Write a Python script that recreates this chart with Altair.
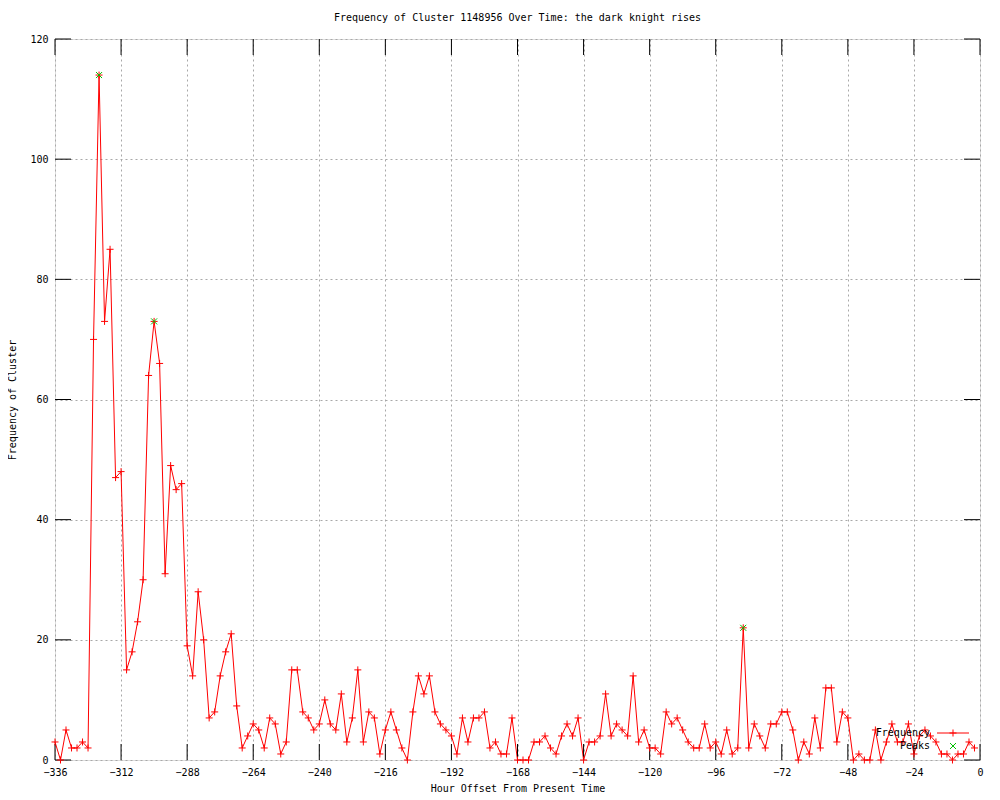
import altair as alt
import pandas as pd

# ---- data ----
hours = list(range(-336, 0, 2))
freq = [3, 0, 5, 2, 2, 3, 2, 70, 114, 73,
        85, 47, 48, 15, 18, 23, 30, 64, 73, 66,
        31, 49, 45, 46, 19, 14, 28, 20, 7, 8,
        14, 18, 21, 9, 2, 4, 6, 5, 2, 7,
        6, 1, 3, 15, 15, 8, 7, 5, 6, 10,
        6, 5, 11, 3, 7, 15, 3, 8, 7, 1,
        5, 8, 5, 2, 0, 8, 14, 11, 14, 8,
        6, 5, 4, 1, 7, 3, 7, 7, 8, 2,
        3, 1, 1, 7, 0, 0, 0, 3, 3, 4,
        2, 1, 4, 6, 4, 7, 0, 3, 3, 4,
        11, 4, 6, 5, 4, 14, 3, 5, 2, 2,
        1, 8, 6, 7, 5, 3, 2, 2, 6, 2,
        3, 1, 5, 1, 2, 22, 2, 6, 4, 2,
        6, 6, 8, 8, 5, 0, 3, 1, 7, 2,
        12, 12, 3, 8, 7, 0, 1, 0, 0, 5,
        0, 3, 6, 3, 3, 6, 1, 4, 5, 4,
        3, 1, 1, 0, 1, 1, 3, 2]
peak_hours = [-320, -300, -86]
peak_values = [114, 73, 22]
x_ticks = [-336, -312, -288, -264, -240, -216, -192, -168, -144, -120, -96, -72, -48, -24, 0]
y_ticks = [0, 20, 40, 60, 80, 100, 120]

title = "Frequency of Cluster 1148956 Over Time: the dark knight rises"
x_title = "Hour Offset From Present Time"
y_title = "Frequency of Cluster"
legend_labels = ["Frequency", "Peaks"]

FONT = "DejaVu Sans Mono"
W, H = 925, 721
TICK = 16
RED = "#ff0000"
GREEN = "#00c000"
PLUS = "M-1,0L1,0M0,-1L0,1"
CROSS = "M-1,-1L1,1M1,-1L-1,1"

df = pd.DataFrame({"hour": hours, "freq": freq})
peaks = pd.DataFrame({"hour": peak_hours, "freq": peak_values})
xt = pd.DataFrame({"hour": x_ticks})
yt = pd.DataFrame({"freq": y_ticks})
one = pd.DataFrame({"k": [0]})

xs = alt.Scale(domain=[-336, 0], nice=False, zero=False)
ys = alt.Scale(domain=[0, 120], nice=False, zero=True)

x_axis = alt.Axis(values=x_ticks, format="d", title=x_title, grid=True,
                  gridDash=[2, 3], gridColor="#a8a8a8", gridWidth=1,
                  ticks=False, domain=False, labelFont=FONT, labelFontSize=10,
                  labelColor="black", labelPadding=7, titleFont=FONT,
                  titleFontSize=10, titleFontWeight="normal", titleColor="black",
                  titlePadding=6, labelFlush=False)
y_axis = alt.Axis(values=y_ticks, format="d", title=y_title, grid=True,
                  gridDash=[2, 3], gridColor="#a8a8a8", gridWidth=1,
                  ticks=False, domain=False, labelFont=FONT, labelFontSize=10,
                  labelColor="black", labelPadding=7, titleFont=FONT,
                  titleFontSize=10, titleFontWeight="normal", titleColor="black",
                  titlePadding=12)

X = alt.X("hour:Q", scale=xs, axis=x_axis)
Y = alt.Y("freq:Q", scale=ys, axis=y_axis)

base = alt.Chart(df)

line = base.mark_line(color=RED, strokeWidth=1, clip=False).encode(x=X, y=Y)
pts = base.mark_point(shape=PLUS, size=49, color=RED, strokeWidth=1,
                      filled=False, opacity=1).encode(x=X, y=Y)
peak_pts = alt.Chart(peaks).mark_point(shape=CROSS, size=36, color=GREEN,
                                       strokeWidth=1, filled=False, opacity=1).encode(x=X, y=Y)

# tick marks (inward, mirrored)
bt = alt.Chart(xt).mark_rule(color="black", strokeWidth=1).encode(
    x=X, y=alt.value(H), y2=alt.value(H - TICK))
tt = alt.Chart(xt).mark_rule(color="black", strokeWidth=1).encode(
    x=X, y=alt.value(0), y2=alt.value(TICK))
lt = alt.Chart(yt).mark_rule(color="black", strokeWidth=1).encode(
    y=Y, x=alt.value(0), x2=alt.value(TICK))
rt = alt.Chart(yt).mark_rule(color="black", strokeWidth=1).encode(
    y=Y, x=alt.value(W), x2=alt.value(W - TICK))

# legend (inside, bottom right)
lg = alt.Chart(one)
leg_t1 = lg.mark_text(font=FONT, fontSize=10, align="right", baseline="middle",
                      color="black").encode(x=alt.value(875), y=alt.value(694),
                                            text=alt.value(legend_labels[0]))
leg_t2 = lg.mark_text(font=FONT, fontSize=10, align="right", baseline="middle",
                      color="black").encode(x=alt.value(875), y=alt.value(707),
                                            text=alt.value(legend_labels[1]))
leg_line = lg.mark_rule(color=RED, strokeWidth=1).encode(
    x=alt.value(882), x2=alt.value(914), y=alt.value(694))
leg_plus = lg.mark_point(shape=PLUS, size=49, color=RED, strokeWidth=1,
                         filled=False, opacity=1).encode(x=alt.value(898), y=alt.value(694))
leg_cross = lg.mark_point(shape=CROSS, size=36, color=GREEN, strokeWidth=1,
                          filled=False, opacity=1).encode(x=alt.value(898), y=alt.value(707))

chart = alt.layer(line, bt, tt, lt, rt, pts, peak_pts,
                  leg_t1, leg_t2, leg_line, leg_plus, leg_cross).properties(
    width=W, height=H,
    title=alt.TitleParams(title, font=FONT, fontSize=10, fontWeight="normal",
                          color="black", anchor="middle", offset=11),
    autosize=alt.AutoSizeParams(type="none"),
    padding={"left": 47, "top": 31, "right": 12, "bottom": 38},
).configure_view(stroke="black", strokeWidth=1).configure(background="white")

chart.save("out.html", embed_options={"renderer": "svg", "actions": False})
